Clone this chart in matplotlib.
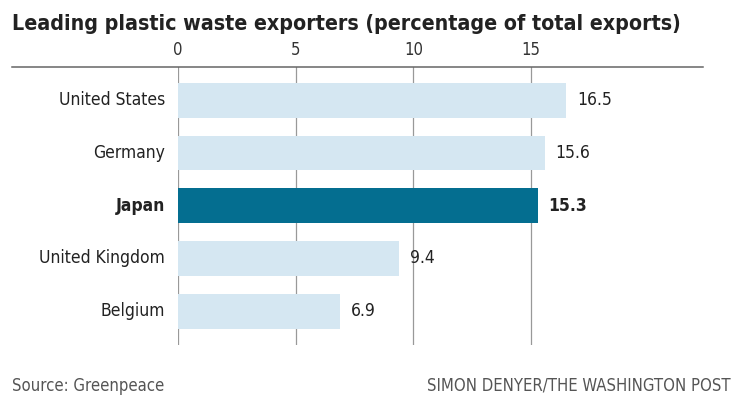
import matplotlib.pyplot as plt
from matplotlib.lines import Line2D

countries = ['United States', 'Germany', 'Japan', 'United Kingdom', 'Belgium']
shares = [16.5, 15.6, 15.3, 9.4, 6.9]
highlight = 'Japan'
xticks = [0, 5, 10, 15]

light = '#d5e7f2'
dark = '#046e90'
plt.rcParams['font.family'] = ['DejaVu Sans']
plt.rcParams['font.stretch'] = 'condensed'

fig = plt.figure(figsize=(7.31, 3.96), dpi=100)
ax = fig.add_axes([178 / 731, 1 - 345 / 396, (703 - 178) / 731, (345 - 67) / 396])

ypos = list(range(len(countries)))
colors = [dark if c == highlight else light for c in countries]
ax.barh(ypos, shares, height=0.66, color=colors, zorder=2)

for y, c, v in zip(ypos, countries, shares):
    bold = 'bold' if c == highlight else 'normal'
    ax.text(v + 0.45, y, f'{v:.1f}', va='center', ha='left', fontsize=12.5,
            color='#222222', fontweight=bold)
    ax.text(-0.55, y, c, va='center', ha='right', fontsize=12.5,
            color='#222222', fontweight=bold)

ax.set_xlim(0, (703 - 178) / (531 - 178) * 15)
ax.set_ylim(4.64, -0.63)
ax.set_xticks(xticks)
ax.set_yticks([])
ax.xaxis.tick_top()
ax.tick_params(axis='x', length=0, pad=6, labelsize=12, labelcolor='#333333')
ax.grid(axis='x', color='#999999', linewidth=0.9, zorder=1)
for s in ax.spines.values():
    s.set_visible(False)

fig.add_artist(Line2D([12 / 731, 703 / 731], [1 - 67 / 396] * 2,
                      color='#666666', linewidth=1.1))

fig.text(12 / 731, 1 - 24 / 396, 'Leading plastic waste exporters (percentage of total exports)',
         fontsize=15.3, fontweight='bold', color='#222222', va='center', ha='left')
fig.text(12 / 731, 1 - 386 / 396, 'Source: Greenpeace', fontsize=12,
         color='#555555', va='center', ha='left')
fig.text(731 / 731, 1 - 386 / 396, 'SIMON DENYER/THE WASHINGTON POST', fontsize=12,
         color='#555555', va='center', ha='right')

fig.savefig('out.png', dpi=100)
